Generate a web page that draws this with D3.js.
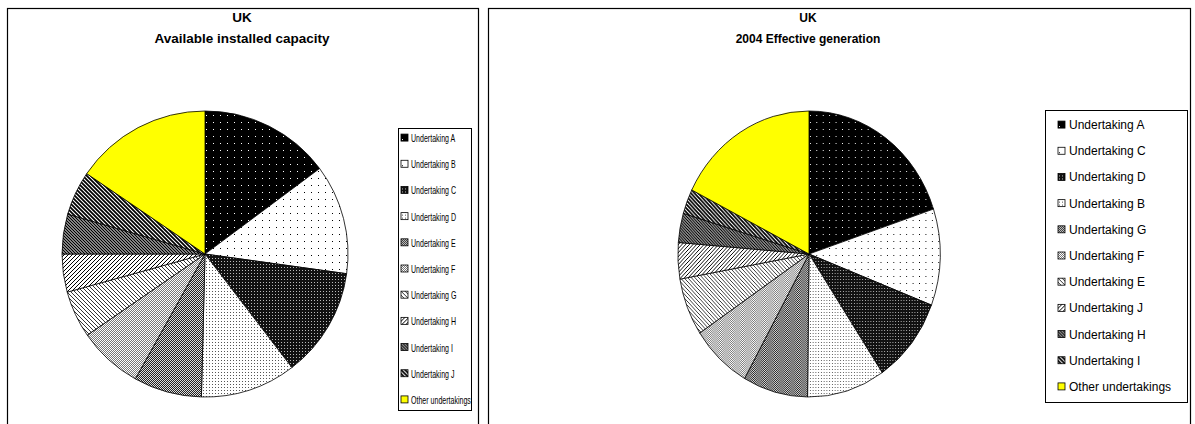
<!DOCTYPE html>
<html>
<head>
<meta charset="utf-8">
<script src="https://cdn.jsdelivr.net/npm/d3@7"></script>
<style>
  body { margin: 0; background: #fff; }
  svg { display: block; font-family: "Liberation Sans", Arial, sans-serif; }
</style>
</head>
<body>
<div id="chart"></div>
<script>
// left chart: available installed capacity (share %, clockwise from 12 o'clock)
const capLabels = ["Undertaking A", "Undertaking B", "Undertaking C", "Undertaking D", "Undertaking E",
    "Undertaking F", "Undertaking G", "Undertaking H", "Undertaking I", "Undertaking J", "Other undertakings"];
const capValues = [14.8, 12.4, 12.4, 10.8, 7.7, 7.3, 5.3, 4.3, 4.5, 5.0, 15.5];

// right chart: 2004 effective generation
const genLabels = ["Undertaking A", "Undertaking C", "Undertaking D", "Undertaking B", "Undertaking G",
    "Undertaking F", "Undertaking E", "Undertaking J", "Undertaking H", "Undertaking I", "Other undertakings"];
const genValues = [19.9, 10.9, 9.75, 9.6, 8.0, 7.5, 6.5, 4.1, 3.3, 2.8, 17.6];

// fill patterns by slot
const fills = ["url(#p0)", "url(#p1)", "url(#p2)", "url(#p3)", "url(#p4)", "url(#p5)",
    "url(#p6)", "url(#p7)", "url(#p8)", "url(#p9)", "#ffff00"];

const width = 1195, height = 424;

const svg = d3.select("#chart").append("svg")
    .attr("width", width)
    .attr("height", height);

const defs = svg.append("defs");

function dots(id, bg, fg, step, r) {
    const p = defs.append("pattern").attr("id", id)
        .attr("patternUnits", "userSpaceOnUse")
        .attr("width", step).attr("height", step);
    p.append("rect").attr("width", step).attr("height", step).attr("fill", bg);
    p.append("rect").attr("x", 1).attr("y", 1).attr("width", r).attr("height", r).attr("fill", fg);
}
function checker(id, bg, fg, step) {
    const p = defs.append("pattern").attr("id", id)
        .attr("patternUnits", "userSpaceOnUse")
        .attr("width", step).attr("height", step);
    p.append("rect").attr("width", step).attr("height", step).attr("fill", bg);
    p.append("rect").attr("width", step / 2).attr("height", step / 2).attr("fill", fg);
    p.append("rect").attr("x", step / 2).attr("y", step / 2).attr("width", step / 2).attr("height", step / 2).attr("fill", fg);
}
function hatch(id, bg, fg, step, w, flip) {
    const p = defs.append("pattern").attr("id", id)
        .attr("patternUnits", "userSpaceOnUse")
        .attr("width", step).attr("height", step);
    p.append("rect").attr("width", step).attr("height", step).attr("fill", bg);
    const d = flip
        ? `M0,0 L${step},${step} M${-step},0 L${step},${2 * step} M0,${-step} L${2 * step},${step}`
        : `M0,${step} L${step},0 M${-step},${step} L${step},${-step} M0,${2 * step} L${2 * step},0`;
    p.append("path").attr("d", d).attr("stroke", fg).attr("stroke-width", w);
}

dots("p0", "#000", "#fff", 7, 1);
dots("p1", "#fff", "#000", 7, 1);
dots("p2", "#111", "#bbb", 3, 1);
dots("p3", "#fff", "#555", 3, 1);
checker("p4", "#ddd", "#222", 2);
checker("p5", "#fff", "#777", 2);
hatch("p6", "#fff", "#000", 4, 0.8, true);
hatch("p7", "#fff", "#000", 4, 1, false);
hatch("p8", "#fff", "#000", 3, 1.4, true);
hatch("p9", "#fff", "#000", 4, 1.8, true);

function drawChart(cfg) {
    const g = svg.append("g");

    g.append("rect")
        .attr("x", cfg.left + 0.5).attr("y", 8.5)
        .attr("width", cfg.right - cfg.left).attr("height", 500)
        .attr("fill", "#fff").attr("stroke", "#000").attr("stroke-width", 1.2);

    g.append("text").attr("x", cfg.titleX).attr("y", 22)
        .attr("text-anchor", "middle").attr("font-weight", "bold").attr("font-size", cfg.titleSize)
        .text("UK");
    g.append("text").attr("x", cfg.titleX).attr("y", 43)
        .attr("text-anchor", "middle").attr("font-weight", "bold").attr("font-size", cfg.titleSize)
        .text(cfg.title);

    const pie = d3.pie().sort(null).value(d => d);
    const arcs = pie(cfg.values);
    const arc = d3.arc().innerRadius(0).outerRadius(cfg.r);

    const pg = g.append("g")
        .attr("transform", `translate(${cfg.cx},${cfg.cy}) scale(${cfg.sx},1)`);
    pg.selectAll("path")
        .data(arcs)
        .join("path")
        .attr("d", arc)
        .attr("fill", (d, i) => fills[i])
        .attr("stroke", "#000")
        .attr("stroke-width", 0.8)
        .attr("vector-effect", "non-scaling-stroke");

    // legend
    const lg = g.append("g");
    lg.append("rect")
        .attr("x", cfg.legX + 0.5).attr("y", cfg.legY + 0.5)
        .attr("width", cfg.legW).attr("height", cfg.legH)
        .attr("fill", "#fff").attr("stroke", "#000").attr("stroke-width", 1);

    const row = d3.scaleBand()
        .domain(d3.range(cfg.labels.length))
        .range(cfg.rows);

    const item = lg.selectAll("g.item")
        .data(cfg.labels)
        .join("g")
        .attr("class", "item")
        .attr("transform", (d, i) => `translate(${cfg.legX + cfg.iconX},${row(i) + row.bandwidth() / 2})`);
    item.append("rect")
        .attr("x", 0).attr("y", -4).attr("width", 7).attr("height", 7)
        .attr("fill", (d, i) => fills[i])
        .attr("stroke", "#000").attr("stroke-width", 0.8);
    const txt = item.append("text")
        .attr("x", cfg.textX).attr("y", 4)
        .attr("font-size", cfg.legSize)
        .attr("fill", "#000")
        .text(d => d);
    if (cfg.squeeze) {
        txt.each(function() {
            const w = this.getComputedTextLength();
            d3.select(this).attr("textLength", w * cfg.squeeze).attr("lengthAdjust", "spacingAndGlyphs");
        });
    }
}

drawChart({
    left: 7, right: 478, titleX: 242, titleSize: 13.5, title: "Available installed capacity",
    values: capValues, labels: capLabels,
    cx: 205, cy: 254, r: 143, sx: 1,
    legX: 398, legY: 128, legW: 73, legH: 282, rows: [125, 413],
    iconX: 3, textX: 10, legSize: 11, squeeze: 0.64
});

drawChart({
    left: 488, right: 1190, titleX: 808, titleSize: 12, title: "2004 Effective generation",
    values: genValues, labels: genLabels,
    cx: 809, cy: 254, r: 143, sx: 0.917,
    legX: 1045, legY: 110, legW: 142, legH: 292, rows: [112, 400],
    iconX: 13, textX: 11, legSize: 12
});
</script>
</body>
</html>
